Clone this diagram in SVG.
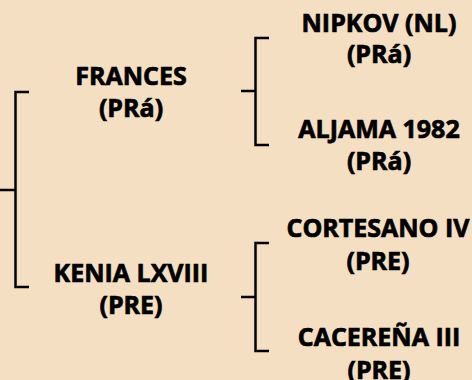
<svg xmlns="http://www.w3.org/2000/svg" width="472" height="380" viewBox="0 0 472 380">
<style>
.bg{fill:#f5dfc2}
.t{font-family:"Open Sans","Liberation Sans",sans-serif;font-weight:700;font-size:25px;fill:#000;stroke:#000;stroke-width:0.7;text-anchor:middle}
.c{fill:none;stroke:#000;stroke-width:2.5}
</style>
<rect class="bg" x="0" y="0" width="472" height="380"/>
<g id="connectors">
<path class="c" d="M29,92 H15.5 V287 H29 M0,190 H15.5"/>
<path class="c" d="M269,38 H255.5 V145 H269 M241,91 H255.5"/>
<path class="c" d="M269,243 H255.5 V351 H269 M241,297 H255.5"/>
</g>
<g id="frances"><text class="t" x="131" y="85">FRANCES</text><text class="t" x="131" y="117">(PRá)</text></g>
<g id="kenia"><text class="t" x="131" y="282">KENIA LXVIII</text><text class="t" x="131" y="314">(PRE)</text></g>
<g id="nipkov"><text class="t" x="379" y="32">NIPKOV (NL)</text><text class="t" x="379" y="63">(PRá)</text></g>
<g id="aljama"><text class="t" x="379" y="138">ALJAMA 1982</text><text class="t" x="379" y="170">(PRá)</text></g>
<g id="cortesano"><text class="t" x="378" y="237">CORTESANO IV</text><text class="t" x="378" y="270">(PRE)</text></g>
<g id="cacerena"><text class="t" x="379" y="346">CACEREÑA III</text><text class="t" x="379" y="379">(PRE)</text></g>
</svg>
